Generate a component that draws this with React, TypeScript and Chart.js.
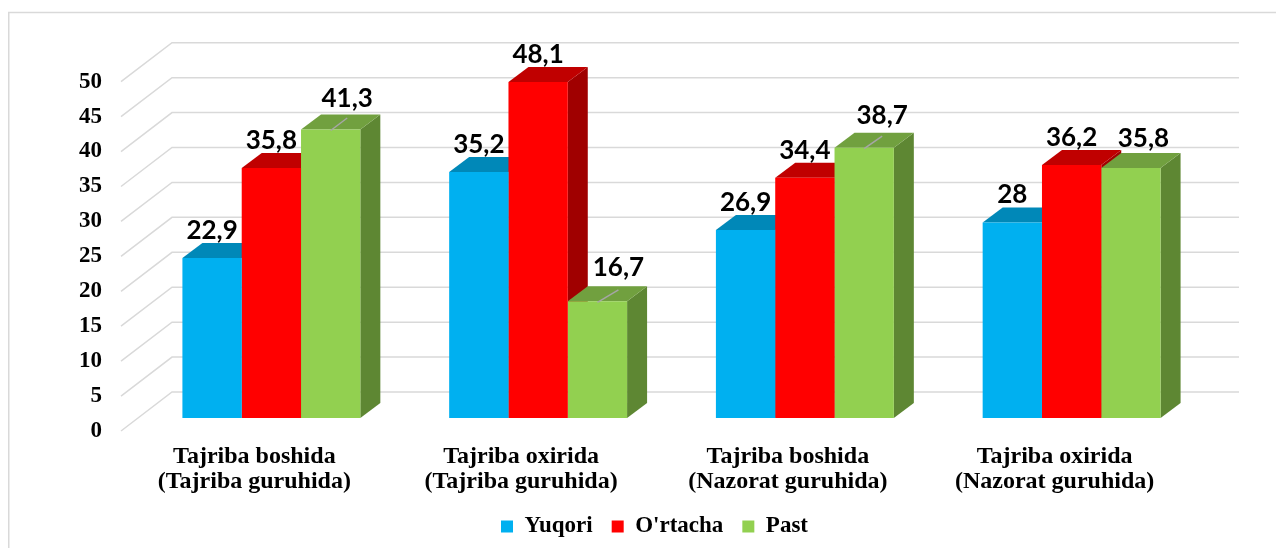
import React, { useEffect, useRef } from "react";
import { Chart, registerables } from "chart.js";

Chart.register(...registerables);

// ---- data ----
const categories: string[][] = [
  ["Tajriba boshida", "(Tajriba guruhida)"],
  ["Tajriba oxirida", "(Tajriba guruhida)"],
  ["Tajriba boshida", "(Nazorat guruhida)"],
  ["Tajriba oxirida", "(Nazorat guruhida)"],
];
const seriesNames = ["Yuqori", "O'rtacha", "Past"];
const yuqori = [22.9, 35.2, 26.9, 28];
const ortacha = [35.8, 48.1, 34.4, 36.2];
const past = [41.3, 16.7, 38.7, 35.8];
const yTicks = [0, 5, 10, 15, 20, 25, 30, 35, 40, 45, 50];

// ---- styles ----
const frontColors = ["#00B0F0", "#FF0000", "#92D050"];
const topColors = ["#0088B8", "#C00000", "#71A03F"];
const sideColors = ["#006E94", "#A00000", "#5E8733"];
const serif = "'Liberation Serif', 'Times New Roman', serif";

// label nudges (series x category)
const labelShiftX = [
  [0, 0, 0, 0],
  [0, 0, 0, 0],
  [16.5, 21, 18, 12.5],
];
const labelShiftY = [
  [-19, -19, -19, -19],
  [-19, -19, -19, -19],
  [-22, -25, -24, -21],
];

// 3D geometry
const DX = 17, DY = -13; // bar plane offset from front plane
const BDX = 20, BDY = -15; // bar depth
const WDX = 51, WDY = -39; // wall depth

const fmt = (v: number) => String(v).replace(".", ",");

const threeD = {
  id: "threeD",
  beforeDraw(chart: any) {
    const { ctx, width, height } = chart;
    ctx.save();
    ctx.strokeStyle = "#D9D9D9";
    ctx.lineWidth = 1.5;
    ctx.beginPath();
    ctx.moveTo(0.75, height);
    ctx.lineTo(0.75, 4.5);
    ctx.lineTo(width, 4.5);
    ctx.stroke();
    ctx.restore();
  },
  beforeDatasetsDraw(chart: any) {
    const { ctx, chartArea: a, scales } = chart;
    const y = scales.y;
    ctx.save();
    ctx.strokeStyle = "#D9D9D9";
    ctx.lineWidth = 1.5;
    yTicks.forEach((v) => {
      const py = y.getPixelForValue(v);
      ctx.beginPath();
      ctx.moveTo(a.left, py);
      ctx.lineTo(a.left + WDX, py + WDY);
      ctx.lineTo(a.right + WDX, py + WDY);
      ctx.stroke();
    });
    const n = chart.data.labels.length;
    for (let i = 0; i < n; i++) {
      for (let d = 0; d < chart.data.datasets.length; d++) {
        const el: any = chart.getDatasetMeta(d).data[i];
        if (!el) continue;
        const { x, y: top, base, width } = el.getProps(["x", "y", "base", "width"], true);
        const L = x - width / 2 + DX;
        const R = x + width / 2 + DX;
        const T = top + DY;
        const B = base + DY;
        // side
        ctx.fillStyle = sideColors[d];
        ctx.beginPath();
        ctx.moveTo(R, T);
        ctx.lineTo(R + BDX, T + BDY);
        ctx.lineTo(R + BDX, B + BDY);
        ctx.lineTo(R, B);
        ctx.closePath();
        ctx.fill();
        // top
        ctx.fillStyle = topColors[d];
        ctx.beginPath();
        ctx.moveTo(L, T);
        ctx.lineTo(R, T);
        ctx.lineTo(R + BDX, T + BDY);
        ctx.lineTo(L + BDX, T + BDY);
        ctx.closePath();
        ctx.fill();
      }
    }
    ctx.restore();
    ctx.save();
    ctx.translate(DX, DY);
  },
  afterDatasetsDraw(chart: any) {
    const { ctx } = chart;
    ctx.restore();
    ctx.save();
    ctx.font = "bold 26px Lato, 'Open Sans', sans-serif";
    ctx.fillStyle = "#000";
    ctx.textAlign = "center";
    ctx.textBaseline = "alphabetic";
    chart.data.datasets.forEach((ds: any, d: number) => {
      chart.getDatasetMeta(d).data.forEach((el: any, i: number) => {
        const { x, y: top } = el.getProps(["x", "y"], true);
        const xc = x + DX;
        const T = top + DY;
        const sx = labelShiftX[d][i];
        if (sx > 15) {
          ctx.save();
          ctx.strokeStyle = "#A6A6A6";
          ctx.lineWidth = 1.5;
          ctx.beginPath();
          ctx.moveTo(xc, T + 1);
          ctx.lineTo(xc + sx, T - 11.5);
          ctx.stroke();
          ctx.restore();
        }
        ctx.fillText(fmt(ds.data[i]), xc + sx, T + labelShiftY[d][i]);
      });
    });
    ctx.restore();
  },
};

export default function App() {
  const ref = useRef<HTMLCanvasElement | null>(null);
  useEffect(() => {
    if (!ref.current) return;
    const series = [yuqori, ortacha, past];
    const chart = new Chart(ref.current, {
      type: "bar",
      data: {
        labels: categories,
        datasets: series.map((vals, d) => ({
          label: seriesNames[d],
          data: vals,
          backgroundColor: frontColors[d],
          borderWidth: 0,
          categoryPercentage: 0.667,
          barPercentage: 1,
          clip: false as any,
        })),
      },
      options: {
        responsive: false,
        animation: false,
        devicePixelRatio: 1,
        layout: { padding: { left: 0, right: 96, top: 73.7, bottom: 0 } },
        plugins: {
          legend: {
            position: "bottom",
            fullSize: false,
            labels: {
              boxWidth: 12,
              boxHeight: 12,
              padding: 19,
              color: "#000",
              font: { family: serif, size: 23, weight: "bold" },
            },
          },
          tooltip: { enabled: false },
          title: { display: false },
        },
        scales: {
          x: {
            grid: { display: false, drawTicks: false },
            border: { display: false },
            ticks: {
              color: "#000",
              padding: 13.5,
              maxRotation: 0,
              autoSkip: false,
              font: { family: serif, size: 24, weight: "bold", lineHeight: "25px" },
            },
            afterFit: (s: any) => {
              s.height = 65;
            },
          },
          y: {
            min: 0,
            max: 50,
            grid: { display: false, drawTicks: false },
            border: { display: false },
            ticks: {
              stepSize: 5,
              color: "#000",
              padding: 19,
              font: { family: serif, size: 23, weight: "bold" },
            },
            afterFit: (s: any) => {
              s.width = 113;
            },
          },
        },
      },
      plugins: [threeD],
    } as any);
    return () => chart.destroy();
  }, []);
  return (
    <div style={{ width: 1276, height: 540 }}>
      <canvas ref={ref} width={1276} height={540} style={{ display: "block" }} />
    </div>
  );
}
